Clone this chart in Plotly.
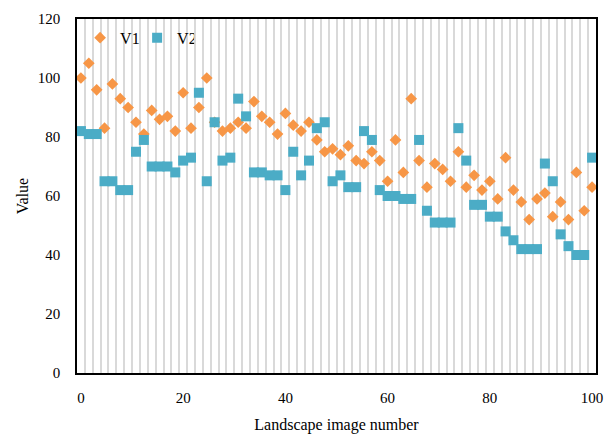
import numpy as np
import plotly.graph_objects as go

v1 = [100, 105, 96, 83, 98, 93, 90, 85, 81, 89, 86, 87, 82, 95, 83, 90, 100, 85, 82, 83,
      85, 83, 92, 87, 85, 81, 88, 84, 82, 85, 79, 75, 76, 74, 77, 72, 71, 75, 72, 65,
      79, 68, 93, 72, 63, 71, 69, 65, 75, 63, 67, 62, 65, 59, 73, 62, 58, 52, 59, 61,
      53, 58, 52, 68, 55, 63]
v2 = [82, 81, 81, 65, 65, 62, 62, 75, 79, 70, 70, 70, 68, 72, 73, 95, 65, 85, 72, 73,
      93, 87, 68, 68, 67, 67, 62, 75, 67, 72, 83, 85, 65, 67, 63, 63, 82, 79, 62, 60,
      60, 59, 59, 79, 55, 51, 51, 51, 83, 72, 57, 57, 53, 53, 48, 45, 42, 42, 42, 71,
      65, 47, 43, 40, 40, 73]
n = len(v1)
image_number = np.linspace(0, 100, n)
step = 100 / (n - 1)

x_ticks = [0, 20, 40, 60, 80, 100]
y_ticks = [0, 20, 40, 60, 80, 100, 120]

font = "Liberation Serif, Times New Roman, serif"

fig = go.Figure()
fig.add_trace(go.Scatter(x=image_number, y=v1, mode="markers", name="V1",
                         marker=dict(symbol="diamond", size=9, color="#F79646")))
fig.add_trace(go.Scatter(x=image_number, y=v2, mode="markers", name="V2",
                         marker=dict(symbol="square", size=10, color="#4BACC6")))

fig.update_layout(
    width=616, height=434,
    margin=dict(l=77, r=20, t=19, b=61),
    paper_bgcolor="white", plot_bgcolor="white",
    font=dict(family=font, size=15, color="black"),
    showlegend=True,
    legend=dict(orientation="h", x=0.006, y=0.995, xanchor="left", yanchor="top",
                font=dict(family=font, size=16), bgcolor="rgba(0,0,0,0)",
                itemwidth=30, entrywidth=12, entrywidthmode="pixels", tracegroupgap=0),
)
fig.update_xaxes(
    range=[-step / 2, 100 + step / 2],
    tickvals=x_ticks, ticktext=[str(t) for t in x_ticks],
    showgrid=False, zeroline=False, automargin=False,
    showline=True, linecolor="black", linewidth=1.5, mirror=True,
    ticks="", ticklabelstandoff=10,
    tickfont=dict(family=font, size=15),
    minor=dict(tick0=step / 2, dtick=step, showgrid=True, gridcolor="#D9D9D9", gridwidth=1.5),
    title=dict(text="Landscape image number", font=dict(family=font, size=16), standoff=16),
)
fig.update_yaxes(
    range=[0, 120],
    tickvals=y_ticks,
    showgrid=False, zeroline=False, automargin=False,
    showline=True, linecolor="black", linewidth=1.5, mirror=True,
    ticks="", ticklabelstandoff=12,
    tickfont=dict(family=font, size=15),
    title=dict(text="Value", font=dict(family=font, size=16), standoff=5),
)

fig.write_html("out.html")
